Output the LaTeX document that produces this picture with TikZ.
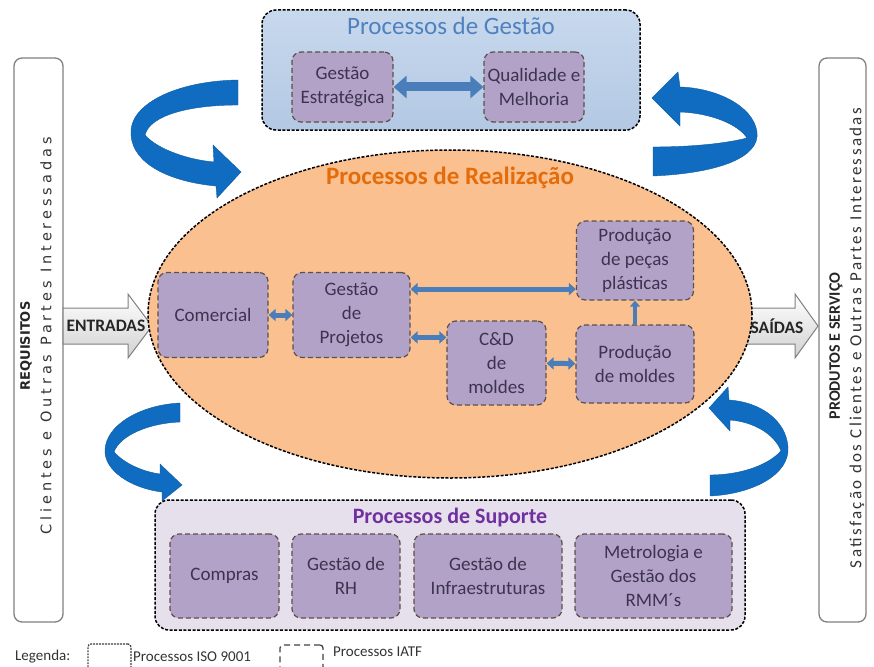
\documentclass[tikz,border=0pt]{standalone}
\usepackage{fontspec}
\setmainfont{Carlito}
\newfontfamily\widefontA{DejaVu Sans}[LetterSpace=27]
\newfontfamily\widefontB{Carlito}[LetterSpace=14]
\newfontfamily\verdanalike{DejaVu Sans}
\usetikzlibrary{arrows.meta,calc,shapes.geometric}

\definecolor{gestfill}{HTML}{C8D9EE}
\definecolor{gestfillb}{HTML}{B3C8E3}
\definecolor{gesttitle}{HTML}{4F81BD}
\definecolor{procfill}{HTML}{B3A2C7}
\definecolor{procedge}{HTML}{5E5048}
\definecolor{proctext}{HTML}{3C3350}
\definecolor{realfill}{HTML}{FAC090}
\definecolor{realtitle}{HTML}{E46C0A}
\definecolor{supfill}{HTML}{E6E0EC}
\definecolor{suptitle}{HTML}{7030A0}
\definecolor{ribbon}{HTML}{0F6CC0}
\definecolor{linkblue}{HTML}{4A7EBB}
\definecolor{sidegray}{HTML}{808080}

\begin{document}
\begin{tikzpicture}[x=1pt,y=-1pt,
  procbox/.style={draw=procedge, fill=procfill, rounded corners=9pt,
    dash pattern=on 5pt off 3pt, line width=1.2pt, text=proctext,
    font=\fontsize{19}{24}\selectfont, align=center, inner sep=1pt},
  groupbox/.style={draw=black, dash pattern=on 3pt off 1.6pt, line width=1.5pt,
    rounded corners=14pt},
  sidebox/.style={draw=sidegray, line width=1.3pt, fill=white, rounded corners=8pt},
  blockarrow/.style={draw=sidegray, line width=1pt, top color=white, bottom color=black!18},
  ribbonshape/.style={fill=ribbon, draw=ribbon!85!black, line width=0.4pt},
  link/.style={draw=linkblue, line width=5pt,
    {Triangle[length=7pt,width=12pt]}-{Triangle[length=7pt,width=12pt]}},
  biglink/.style={draw=linkblue, line width=9pt,
    {Triangle[length=13pt,width=22pt]}-{Triangle[length=13pt,width=22pt]}},
  uplink/.style={draw=linkblue, line width=4pt, -{Triangle[length=6pt,width=10pt]}},
  legendtext/.style={font=\fontsize{15}{17}\selectfont, text=black!80, anchor=west, inner sep=0pt},
  legendkey/.style={draw=black!75, line width=1.3pt, rounded corners=3pt,
    minimum width=43pt, minimum height=28pt}
]
\useasboundingbox (0,0) rectangle (874,666);

% ---- side panels: requirements in, products out ----
\node[sidebox, minimum width=49pt, minimum height=564pt] (inpanel) at (38.5,340) {};
\node[sidebox, minimum width=47pt, minimum height=564pt] (outpanel) at (842.5,340) {};
\node[rotate=90, font=\verdanalike\bfseries\fontsize{13}{15}\selectfont, text=black!85] (reqtitle) at (26,346) {REQUISITOS};
\node[rotate=90, font=\widefontA\fontsize{14.5}{16}\selectfont, text=black!80] (reqtext) at (46,336) {Clientes e Outras Partes Interessadas};
\node[rotate=90, font=\bfseries\fontsize{16}{18}\selectfont, text=black!85] (outtitle) at (836,346) {PRODUTOS E SERVIÇO};
\node[rotate=90, font=\widefontB\fontsize{17}{19}\selectfont, text=black!80] (outtext) at (857,338) {Satisfação dos Clientes e Outras Partes Interessadas};

% ---- input / output block arrows ----
\path[blockarrow] (63,308) -- (128,308) -- (128,294) -- (152,326) -- (128,358) -- (128,344) -- (63,344) -- cycle;
\path[blockarrow] (740,308) -- (795,308) -- (795,294) -- (818,326) -- (795,358) -- (795,344) -- (740,344) -- cycle;

% ---- realisation processes ----
\node[draw=black, fill=realfill, dash pattern=on 3pt off 1.6pt, line width=1.5pt,
  ellipse, minimum width=604pt, minimum height=328pt, inner sep=0pt] (realiz) at (450,314) {};
\node[font=\bfseries\fontsize{25}{28}\selectfont, text=realtitle] (realtitle) at (450,178) {Processos de Realização};

\node[font=\bfseries\fontsize{17.5}{20}\selectfont, text=black!85] (entradas) at (106,326) {ENTRADAS};
\node[font=\bfseries\fontsize{17.5}{20}\selectfont, text=black!85] (saidas) at (777,326) {SAÍDAS};

% ---- circulating ribbons ----
\path[ribbonshape] (238,80) -- (238,105) .. controls (190,105) and (150,115) .. (145,135)
  .. controls (158,150) and (190,160) .. (214,162) -- (213,145) -- (241,172) -- (217,198)
  -- (216,186) .. controls (172,182) and (133,165) .. (131,135)
  .. controls (128,105) and (175,81) .. (238,80) -- cycle;
\path[ribbonshape] (653,147) -- (653,176) .. controls (720,173) and (760,157) .. (757,132)
  .. controls (753,105) and (715,88) .. (680,87) -- (678,72) -- (652,98) -- (680,126)
  -- (680,112) .. controls (710,113) and (738,124) .. (747,138)
  .. controls (720,145) and (680,147) .. (653,147) -- cycle;
\path[ribbonshape] (180,403) -- (180,422) .. controls (150,423) and (120,435) .. (114,452)
  .. controls (126,465) and (145,472) .. (160,474) -- (160,464) -- (182,485) -- (162,501)
  -- (162,492) .. controls (130,488) and (104,470) .. (105,450)
  .. controls (106,425) and (140,405) .. (180,403) -- cycle;
\path[ribbonshape] (710,475) -- (710,496) .. controls (752,494) and (790,475) .. (788,447)
  .. controls (786,420) and (760,402) .. (729,400) -- (728,387) -- (709,408) -- (730,431)
  -- (730,420) .. controls (755,422) and (775,435) .. (781,451)
  .. controls (765,468) and (735,475) .. (710,475) -- cycle;

% ---- management processes ----
\node[groupbox, top color=gestfill, bottom color=gestfillb, minimum width=378pt, minimum height=120pt] (gestao) at (451,70) {};
\node[font=\fontsize{25}{28}\selectfont, text=gesttitle] (gesttitle) at (451,26) {Processos de Gestão};
\node[procbox, minimum width=101pt, minimum height=70pt] (estrat) at (342.5,87) {Gestão\\Estratégica};
\node[procbox, minimum width=100pt, minimum height=70pt] (qualid) at (534,87) {Qualidade e\\Melhoria};

% ---- support processes ----
\node[groupbox, fill=supfill, minimum width=590pt, minimum height=130pt] (suporte) at (450,565) {};
\node[font=\bfseries\fontsize{22}{25}\selectfont, text=suptitle] (suptitle) at (450,518) {Processos de Suporte};
\node[procbox, minimum width=109pt, minimum height=84pt] (compras) at (224.5,576) {Compras};
\node[procbox, minimum width=108pt, minimum height=84pt] (rh) at (346,576) {Gestão de\\RH};
\node[procbox, minimum width=148pt, minimum height=84pt] (infra) at (488,576) {Gestão de\\Infraestruturas};
\node[procbox, minimum width=157pt, minimum height=84pt] (metro) at (653.5,576) {Metrologia e\\Gestão dos\\RMM´s};

% ---- realisation chain ----
\node[procbox, minimum width=110pt, minimum height=85pt] (comercial) at (213,315) {Comercial};
\node[procbox, minimum width=117pt, minimum height=85pt] (projetos) at (351.5,315) {Gestão\\de\\Projetos};
\node[procbox, minimum width=117pt, minimum height=79pt] (pecas) at (635,260.5) {Produção\\de peças\\plásticas};
\node[procbox, minimum width=99pt, minimum height=84pt] (cdmoldes) at (496.5,363) {C\&D\\de\\moldes};
\node[procbox, minimum width=118pt, minimum height=78pt] (prodmoldes) at (635,364) {Produção\\de moldes};

% ---- links ----
\draw[biglink] (estrat) -- (qualid);
\draw[link] (comercial) -- (projetos);
\coordinate (projhi) at ($(projetos.north east)!0.2!(projetos.south east)$);
\coordinate (projlo) at ($(projetos.north east)!0.76!(projetos.south east)$);
\draw[link] (projhi) -- (projhi -| pecas.west);
\draw[link] (projlo) -- (projlo -| cdmoldes.west);
\draw[link] (cdmoldes) -- (prodmoldes);
\draw[uplink] (prodmoldes.north) -- (pecas.south);

% ---- legend ----
\node[legendtext] (legtitle) at (15,657) {Legenda:};
\node[legendkey, dash pattern=on 1.8pt off 1.2pt] (isokey) at (109.5,658) {};
\node[legendtext] (isolabel) at (133,657) {Processos ISO 9001};
\node[legendkey, dash pattern=on 6pt off 4pt] (iatfkey) at (301.5,659) {};
\node[legendtext] (iatflabel) at (333,652) {Processos IATF};
\end{tikzpicture}
\end{document}
